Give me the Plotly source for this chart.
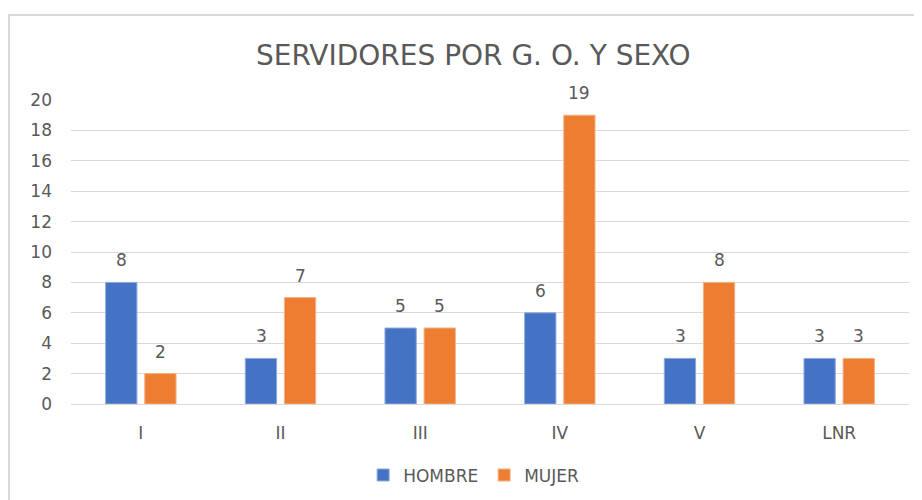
import plotly.graph_objects as go

categories = ["I", "II", "III", "IV", "V", "LNR"]
hombre = [8, 3, 5, 6, 3, 3]
mujer = [2, 7, 5, 19, 8, 3]
y_ticks = [0, 2, 4, 6, 8, 10, 12, 14, 16, 18, 20]

FONT = "DejaVu Sans"
GRAY = "#595959"

fig = go.Figure()
fig.add_trace(go.Bar(name="HOMBRE", x=categories, y=hombre, marker_color="#4472C4",
                     marker_line=dict(color="#8FAADC", width=1)))
fig.add_trace(go.Bar(name="MUJER", x=categories, y=mujer, marker_color="#ED7D31",
                     marker_line=dict(color="#F4B183", width=1)))

# data labels above bars, offset to each bar of the group
annotations = []
for series, shift in ((hombre, -19.5), (mujer, 19.5)):
    for cat, val in zip(categories, series):
        annotations.append(dict(x=cat, y=val, xref="x", yref="y", text=str(val),
                                showarrow=False, xshift=shift, yshift=10,
                                yanchor="bottom",
                                font=dict(family=FONT, size=17, color=GRAY)))

fig.update_layout(
    width=922, height=500,
    margin=dict(l=63, r=21, t=92, b=104, autoexpand=False),
    paper_bgcolor="white", plot_bgcolor="white",
    barmode="group", bargap=0.44, bargroupgap=0.2,
    title=dict(text="SERVIDORES POR G. O. Y SEXO", x=0.48, xanchor="center",
               xref="paper",
               y=0.905, yanchor="middle",
               font=dict(family=FONT, size=28, color=GRAY)),
    font=dict(family=FONT, color=GRAY, size=16),
    legend=dict(orientation="h", x=0.493, xanchor="center", y=-0.235, yanchor="middle",
                font=dict(size=17, color=GRAY, family=FONT), itemwidth=30,
                entrywidth=76, entrywidthmode="pixels",
                traceorder="normal"),
    xaxis=dict(showgrid=False, ticks="", tickfont=dict(size=17, color=GRAY),
               showline=True, linecolor="#D9D9D9", linewidth=1,
               automargin=False, ticklabelstandoff=14),
    yaxis=dict(range=[0, 20], tickvals=y_ticks, showgrid=True, gridcolor="#D9D9D9",
               gridwidth=1, zeroline=False, ticks="", ticklabelstandoff=18,
               automargin=False,
               tickfont=dict(size=17, color=GRAY)),
    showlegend=True,
    annotations=annotations,
    shapes=[dict(type="rect", xref="paper", yref="paper", x0=-0.074, x1=1.1,
                 y0=-0.4, y1=1.28, line=dict(color="#D9D9D9", width=2),
                 fillcolor="rgba(0,0,0,0)", layer="below")],
)

fig.write_html("out.html")
